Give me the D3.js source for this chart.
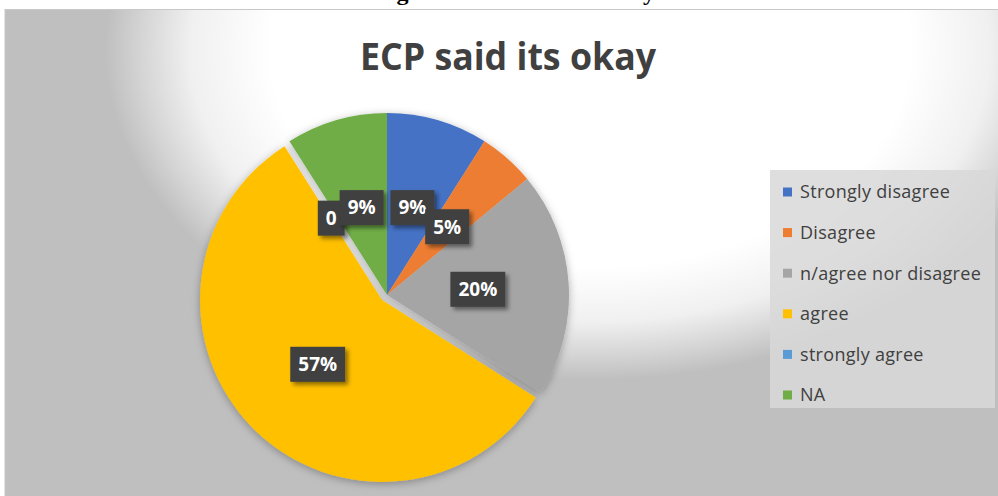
<!DOCTYPE html>
<html><head><meta charset="utf-8">
<script src="https://cdn.jsdelivr.net/npm/d3@7"></script>
<style>html,body{margin:0;padding:0;background:#fff;overflow:hidden}</style>
</head><body>
<svg id="c" width="998" height="496"></svg>
<script>
const categories = ["Strongly disagree","Disagree","n/agree nor disagree","agree","strongly agree","NA"];
const values = [9,5,20,57,0,9];
const labels = ["9%","5%","20%","57%","0","9%"];
const colors = ["#4472c4","#ed7d31","#a5a5a5","#ffc000","#5b9bd5","#70ad47"];
const title = "ECP said its okay";
const caption = "Figure 8: ECP said its okay";

const svg = d3.select("#c");
const defs = svg.append("defs");

// background gradient
const rg = defs.append("radialGradient").attr("id","bg")
  .attr("gradientUnits","userSpaceOnUse").attr("cx",590).attr("cy",50).attr("r",500)
  .attr("gradientTransform","translate(590,50) scale(1,0.68) translate(-590,-50)");
[[0,"#ffffff"],[0.64,"#ffffff"],[0.8,"#f0f0f0"],[0.9,"#d4d4d4"],[0.97,"#bfbfbf"],[1,"#bfbfbf"]].forEach(([o,c])=>rg.append("stop").attr("offset",o).attr("stop-color",c));

const sh = defs.append("filter").attr("id","pshadow").attr("x","-20%").attr("y","-20%").attr("width","140%").attr("height","140%");
sh.append("feDropShadow").attr("dx",0).attr("dy",2).attr("stdDeviation",4).attr("flood-color","#000").attr("flood-opacity",0.3);
const lsh = defs.append("filter").attr("id","lshadow").attr("x","-30%").attr("y","-30%").attr("width","170%").attr("height","170%");
lsh.append("feDropShadow").attr("dx",3).attr("dy",3).attr("stdDeviation",2).attr("flood-color","#000").attr("flood-opacity",0.45);

// caption (cut off at top, as in the reference)
svg.append("text").attr("x",515).attr("y",0).attr("text-anchor","middle")
  .attr("font-family","Liberation Serif").attr("font-weight","bold").attr("font-size",20)
  .attr("textLength",280).attr("lengthAdjust","spacingAndGlyphs").attr("fill","#000").text(caption);

// chart area
svg.append("rect").attr("x",5).attr("y",9.5).attr("width",1000).attr("height",500)
  .attr("fill","url(#bg)").attr("stroke","#c8c8c8").attr("stroke-width",1);

// title
svg.append("text").attr("x",508).attr("y",70).attr("text-anchor","middle")
  .attr("font-family","Open Sans").attr("font-weight","bold").attr("font-size",37)
  .attr("textLength",296).attr("lengthAdjust","spacingAndGlyphs").attr("fill","#404040").text(title);

// pie
const cx = 387, cy = 295, R = 182, explodeIdx = 3, explodeDist = 7;
const pie = d3.pie().sort(null).value(d=>d);
const arcs = pie(values);
const arc = d3.arc().innerRadius(0).outerRadius(R);
const g = svg.append("g").attr("transform",`translate(${cx},${cy})`);
function offset(d,i){
  if(i!==explodeIdx) return [0,0];
  const a=(d.startAngle+d.endAngle)/2;
  return [Math.sin(a)*explodeDist, -Math.cos(a)*explodeDist];
}
const slices = g.append("g").attr("filter","url(#pshadow)");
slices.selectAll("path").data(arcs).join("path")
  .attr("d",arc).attr("fill",(d,i)=>colors[i])
  .attr("transform",(d,i)=>{const o=offset(d,i);return `translate(${o[0]},${o[1]})`;});

// labels (a zero-size slice's label is pushed aside, as Excel does)
const lg = g.append("g");
arcs.forEach((d,i)=>{
  const o=offset(d,i);
  const c=arc.centroid(d);
  let x=c[0]+o[0], y=c[1]+o[1];
  if(d.value===0) x -= 7;
  const grp=lg.append("g").attr("transform",`translate(${x},${y})`);
  const t=grp.append("text").attr("text-anchor","middle").attr("dy","0.36em")
    .attr("font-family","Open Sans").attr("font-weight","bold").attr("font-size",19)
    .attr("fill","#ffffff").text(labels[i]);
  const w=t.node().getComputedTextLength()+16;
  grp.insert("rect","text").attr("x",-w/2).attr("y",-17.5).attr("width",w).attr("height",35)
    .attr("fill","#404040").attr("filter","url(#lshadow)");
});

// legend
const leg = svg.append("g");
leg.append("rect").attr("x",770).attr("y",170).attr("width",225).attr("height",238)
  .attr("fill","#d8d8d8").attr("fill-opacity",0.85);
const ly = d3.scalePoint().domain(categories).range([192,395]);
categories.forEach((c,i)=>{
  leg.append("rect").attr("x",783).attr("y",ly(c)-4.5).attr("width",9).attr("height",9).attr("fill",colors[i]);
  leg.append("text").attr("x",800).attr("y",ly(c)).attr("dy","0.35em")
    .attr("font-family","Open Sans").attr("font-size",18).attr("letter-spacing",0.3)
    .attr("fill","#404040").text(c);
});
</script>
</body></html>
